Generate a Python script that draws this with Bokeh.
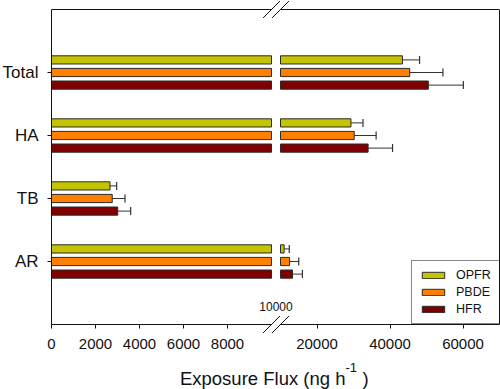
import numpy as np
from bokeh.plotting import figure
from bokeh.models import (Range1d, LinearAxis, FixedTicker, ColumnDataSource, CDSView,
                          BooleanFilter, Legend, LegendItem, Label)
from bokeh.embed import file_html
from bokeh.resources import INLINE

# ---------------- data ----------------
categories = ["Total", "HA", "TB", "AR"]          # top to bottom
series = ["OPFR", "PBDE", "HFR"]
opfr = [43400, 29300, 2660, 11000]
opfr_err = [4700, 3300, 300, 1400]
pbde = [45400, 30200, 2760, 12500]
pbde_err = [9100, 6000, 580, 2500]
hfr = [50500, 34000, 3010, 13300]
hfr_err = [9600, 6700, 590, 2700]
left_ticks = [0, 2000, 4000, 6000, 8000]
right_ticks = [20000, 40000, 60000]
x_break = 10000
x_max = 70000
break_label = "10000"
title_main = "Exposure Flux (ng h"
title_sup = "-1"
title_end = ")"

colors = ["#C4C400", "#FF8000", "#800000"]
values = [opfr, pbde, hfr]
errors = [opfr_err, pbde_err, hfr_err]
offsets = [0.2, 0.0, -0.2]

# ---------------- layout (pixels) ----------------
W, H = 500, 389
MR = 1
box_left = 51          # left border of the plot box
box_right = 499        # right border
seg_l_px = 220         # width of 0..10000 segment
gap_px = 9
box_top = 9
box_bot = 324

n = len(categories)
unit = (box_bot - box_top) / (n + 1)
y_lo = -(H - box_bot) / unit
y_hi = (n + 1) + box_top / unit

k_l = seg_l_px / x_break
l_start = -box_left / k_l
l_end = (box_right - box_left) / k_l
seg_r_px = box_right - box_left - seg_l_px - gap_px
k_r = seg_r_px / (x_max - x_break)
r_start = x_break - (box_left + seg_l_px + gap_px) / k_r

cat_pos = list(range(n, 0, -1))   # Total=4 ... AR=1
FONT = "Liberation Sans"
INK = "#111111"

def px_x(fx):   # page px -> L data
    return (fx - box_left) / k_l

def px_y(fy):   # page px -> y data
    return (box_bot - fy) / unit

p = figure(width=W, height=H, x_range=Range1d(l_start, l_end), y_range=Range1d(y_lo, y_hi),
           output_backend="svg", toolbar_location=None,
           x_axis_location=None, y_axis_location=None,
           min_border_left=0, min_border_right=MR, min_border_top=0, min_border_bottom=0)
p.extra_x_ranges = {"R": Range1d(r_start, x_max)}
p.outline_line_color = None
p.grid.visible = False

bar_h = 0.13
legend_items = []
for name, vals, errs, off, col in zip(series, values, errors, offsets, colors):
    v = np.array(vals, dtype=float)
    e = np.array(errs, dtype=float)
    src = ColumnDataSource(dict(
        y=[c + off for c in cat_pos],
        v=v,
        vl=np.minimum(v, x_break),
        end=v + e,
    ))
    rl = p.hbar(y="y", left=0, right="vl", height=bar_h, source=src,
                fill_color=col, line_color="#2a2a2a", line_width=1)
    mask_r = list(v > x_break)
    p.hbar(y="y", left=x_break, right="v", height=bar_h, source=src,
           view=CDSView(filter=BooleanFilter(mask_r)), x_range_name="R",
           fill_color=col, line_color="#2a2a2a", line_width=1)
    mask_l = list(v + e <= x_break)
    for rng, mask in (("default", mask_l), ("R", mask_r)):
        view = CDSView(filter=BooleanFilter(mask))
        p.segment(x0="v", x1="end", y0="y", y1="y", source=src, view=view,
                  x_range_name=rng, line_color="#333333", line_width=1)
        p.scatter(x="end", y="y", source=src, view=view, x_range_name=rng,
                  marker="dash", size=8, angle=np.pi / 2,
                  line_color="#333333", line_width=1.2)
    legend_items.append(LegendItem(label=name, renderers=[rl]))

# ---------------- axes / box ----------------
def x_axis(rng, bounds, ticks, loc, side):
    ax = LinearAxis(x_range_name=rng, bounds=bounds, fixed_location=loc,
                    ticker=FixedTicker(ticks=ticks))
    ax.major_tick_out = 4 if ticks else 0
    ax.major_tick_in = 0
    ax.minor_tick_line_color = None
    ax.axis_line_color = INK
    ax.major_tick_line_color = INK
    ax.major_label_text_font = FONT
    ax.major_label_text_font_size = "15px"
    ax.major_label_text_color = INK
    ax.major_label_standoff = 10
    p.add_layout(ax, side)

x_axis("default", (0, x_break), left_ticks, 0, "below")
x_axis("R", (x_break, x_max), right_ticks, 0, "below")
x_axis("default", (0, x_break), [], n + 1, "above")
x_axis("R", (x_break, x_max), [], n + 1, "above")

yax = LinearAxis(ticker=FixedTicker(ticks=cat_pos), bounds=(0, n + 1), fixed_location=0,
                 major_label_overrides={c: lab for c, lab in zip(cat_pos, categories)})
yax.major_tick_out = 4
yax.major_tick_in = 0
yax.minor_tick_line_color = None
yax.axis_line_color = INK
yax.major_tick_line_color = INK
yax.major_label_text_font = FONT
yax.major_label_text_font_size = "17px"
yax.major_label_text_color = INK
yax.major_label_standoff = 9
p.add_layout(yax, "left")

yaxR = LinearAxis(ticker=FixedTicker(ticks=[]), bounds=(0, n + 1))
yaxR.major_tick_out = 0
yaxR.major_tick_in = 0
yaxR.minor_tick_line_color = None
yaxR.major_label_standoff = 0
yaxR.axis_line_color = INK
p.add_layout(yaxR, "right")

# ---------------- break decorations ----------------
for rng in ("default", "R"):
    p.scatter(x=[x_break, x_break], y=[0, n + 1], x_range_name=rng, marker="dash",
              size=24, angle=np.pi / 4, line_color=INK, line_width=1)

p.add_layout(Label(x=x_break, y=0, x_range_name="R", x_offset=-4.5, y_offset=18,
                   text=break_label, text_align="center", text_baseline="alphabetic",
                   text_font=FONT, text_font_size="12px", text_color=INK))

# ---------------- axis title ----------------
t_anchor = px_x(345)
t_base = px_y(378)
p.add_layout(Label(x=t_anchor, y=t_base, text=title_main, text_align="right",
                   text_baseline="alphabetic", text_font=FONT, text_font_size="18.5px",
                   text_color=INK))
p.add_layout(Label(x=t_anchor, y=t_base, x_offset=0, y_offset=11, text=title_sup,
                   text_align="left", text_baseline="alphabetic", text_font=FONT,
                   text_font_size="13px", text_color=INK))
p.add_layout(Label(x=t_anchor, y=t_base, x_offset=17, text=title_end,
                   text_align="left", text_baseline="alphabetic", text_font=FONT,
                   text_font_size="18.5px", text_color=INK))

# ---------------- legend ----------------
legend_w = 88
legend = Legend(items=legend_items, location=(box_right - legend_w, H - box_bot),
                margin=0, padding=7, spacing=3, label_height=13, label_width=37,
                glyph_width=28, glyph_height=8, label_standoff=9,
                label_text_font=FONT, label_text_font_size="12.5px",
                label_text_color=INK, border_line_color=INK,
                border_line_width=1, background_fill_alpha=1)
p.add_layout(legend)

open("out.html", "w").write(file_html(p, INLINE))
